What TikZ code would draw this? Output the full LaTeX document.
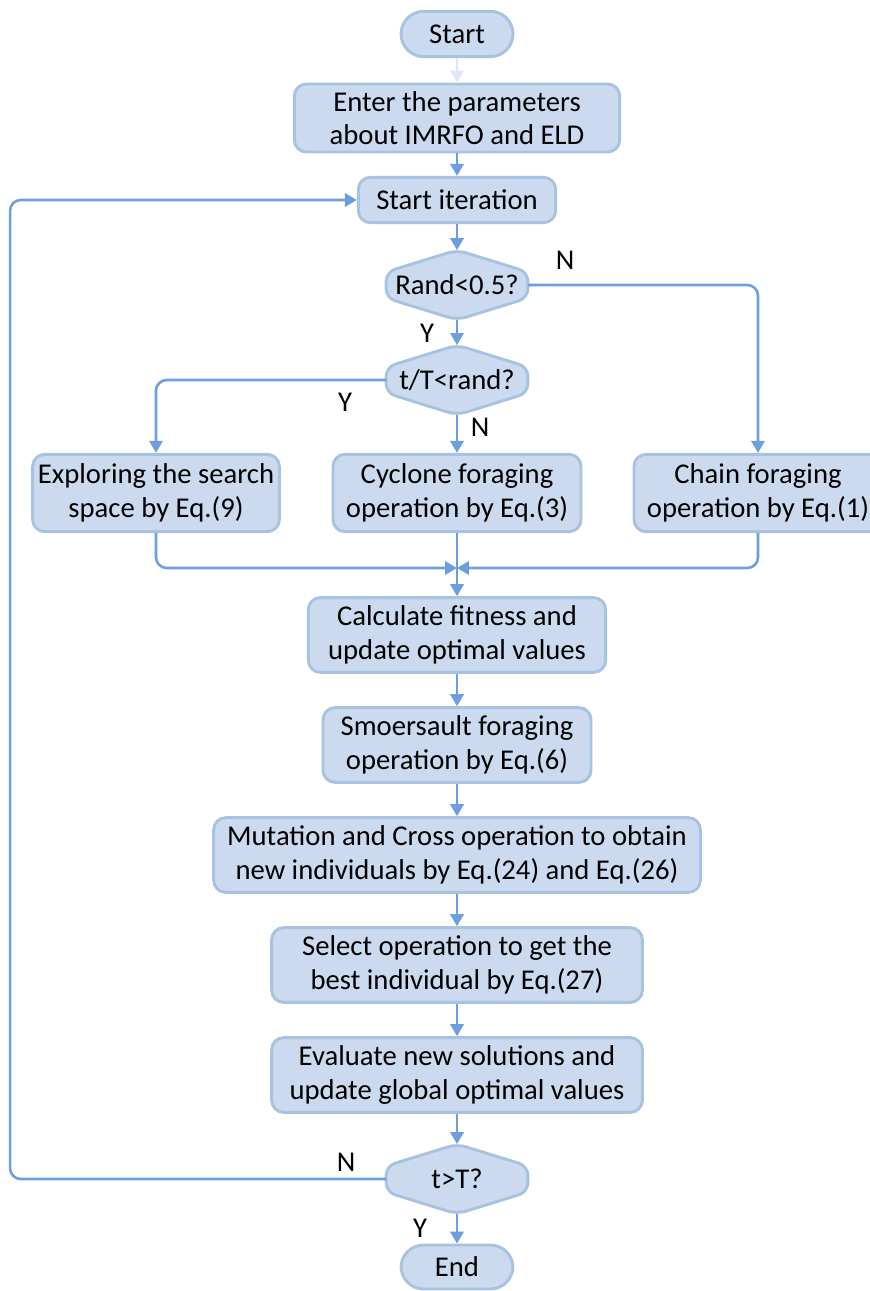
\documentclass[tikz,border=0pt]{standalone}
\usepackage{fontspec}
\setmainfont{Carlito}
\usetikzlibrary{arrows.meta, calc}
\pgfdeclarelayer{back}
\pgfsetlayers{back, main}

\definecolor{boxfill}{HTML}{CCDAF0}
\definecolor{boxline}{HTML}{A8C3DF}
\definecolor{flowline}{HTML}{6D9EDE}
\definecolor{paleline}{HTML}{DCE8F6}

\tikzset{
  txt/.style={font=\fontsize{21.5}{25}\selectfont},
  base/.style={txt, fill=boxfill, draw=boxline, line width=2.2pt, align=center, inner sep=1pt},
  process/.style={base, rounded corners=9pt},
  terminal/.style={base, rounded corners=17pt, minimum width=84pt, minimum height=34pt},
  test/.style={txt, minimum width=106pt, minimum height=52pt, inner sep=0pt},
  testshape/.style={fill=boxfill, draw=boxline, line width=2.2pt, rounded corners=7pt},
  flow/.style={draw=flowline, line width=1.9pt, rounded corners=8pt, -{Triangle[width=10pt,length=9pt]}},
  tag/.style={txt}
}

\begin{document}
\begin{tikzpicture}[x=0.75pt, y=-0.75pt]
    \useasboundingbox (0, 0) rectangle (869, 1291);
    % boxes
    \node [terminal] (start) at (457, 34) {Start};
    \node [process, minimum width=244pt, minimum height=51pt] (enter) at (457, 118)
        {Enter the parameters\\about IMRFO and ELD};
    \node [process, minimum width=148pt, minimum height=34pt] (iter) at (457, 200) {Start iteration};
    \node [test] (rand) at (457, 285) {Rand<0.5?};
    \node [test] (tT) at (457, 380) {t/T<rand?};
    \node [process, minimum width=185pt, minimum height=58pt] (expl) at (156, 493)
        {Exploring the search\\space by Eq.(9)};
    \node [process, minimum width=186pt, minimum height=58pt] (cyc) at (457, 493)
        {Cyclone foraging\\operation by Eq.(3)};
    \node [process, minimum width=186pt, minimum height=58pt] (chain) at (758, 493)
        {Chain foraging\\operation by Eq.(1)};
    \node [process, minimum width=223pt, minimum height=56pt] (fit) at (457, 635)
        {Calculate fitness and\\update optimal values};
    \node [process, minimum width=201pt, minimum height=56pt] (som) at (457, 745)
        {Smoersault foraging\\operation by Eq.(6)};
    \node [process, minimum width=365pt, minimum height=56pt] (mut) at (457, 855)
        {Mutation and Cross operation to obtain\\new individuals by Eq.(24) and Eq.(26)};
    \node [process, minimum width=278pt, minimum height=56pt] (sel) at (457, 965)
        {Select operation to get the\\best individual by Eq.(27)};
    \node [process, minimum width=278pt, minimum height=56pt] (eval) at (457, 1075)
        {Evaluate new solutions and\\update global optimal values};
    \node [test] (stop) at (457, 1179) {t>T?};
    \node [terminal, minimum height=33pt] (end) at (457, 1267) {End};
    % decision outlines
    \begin{pgfonlayer}{back}
    \foreach \d in {rand, tT, stop}
    \draw [testshape] (\d.north) -- ($(\d.east)+(0,-13)$) -- ($(\d.east)+(0,13)$)
        -- (\d.south) -- ($(\d.west)+(0,13)$) -- ($(\d.west)+(0,-13)$) -- cycle;
    \end{pgfonlayer}
    % connectors
    \coordinate (merge) at (457, 568);
    \draw [flow, draw=paleline] (start.south) -- (enter.north);
    \draw [flow] (enter.south) -- (iter.north);
    \draw [flow] (iter.south) -- (rand.north);
    \draw [flow] (rand.south) -- (tT.north);
    \draw [flow] (rand.east) -| (chain.north);
    \draw [flow] (tT.west) -| (expl.north);
    \draw [flow] (tT.south) -- (cyc.north);
    \draw [flow] (expl.south) |- (merge);
    \draw [flow] (chain.south) |- (merge);
    \draw [flow] (cyc.south) -- (fit.north);
    \draw [flow] (fit.south) -- (som.north);
    \draw [flow] (som.south) -- (mut.north);
    \draw [flow] (mut.south) -- (sel.north);
    \draw [flow] (sel.south) -- (eval.north);
    \draw [flow] (eval.south) -- (stop.north);
    \draw [flow] (stop.south) -- (end.north);
    \draw [flow] (stop.west) -- ++(-376, 0) |- (iter.west);
    % branch labels
    \node [tag] at (565, 260) {N};
    \node [tag] at (427, 333) {Y};
    \node [tag] at (345, 402) {Y};
    \node [tag] at (480, 427) {N};
    \node [tag] at (346, 1162) {N};
    \node [tag] at (420, 1228) {Y};
\end{tikzpicture}
\end{document}
